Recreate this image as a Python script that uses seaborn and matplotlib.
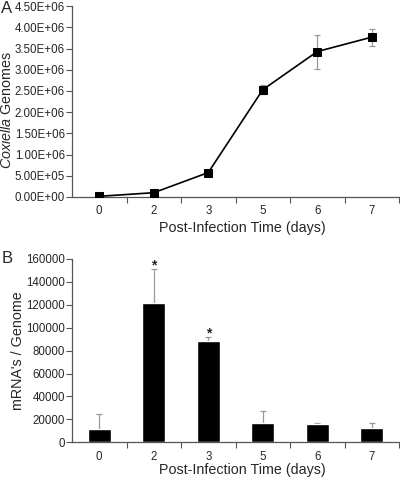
import numpy as np
import pandas as pd
import matplotlib
matplotlib.use('Agg')
import matplotlib.pyplot as plt
import seaborn as sns
from matplotlib.ticker import FormatStrFormatter, FixedLocator

# -------------------------------
# Data
# -------------------------------
days = ['0', '2', '3', '5', '6', '7']

genomes = [1.5e4, 1.0e5, 5.75e5, 2.53e6, 3.43e6, 3.77e6]
genomes_err = [0, 0, 0, 1.0e5, 4.0e5, 2.0e5]

mrna = [11300, 122000, 88300, 16900, 15700, 12200]
mrna_err = [13000, 29500, 3800, 10000, 900, 4400]
starred = ['2', '3']

# -------------------------------
# Style
# -------------------------------
sns.set_style('ticks')
plt.rcParams['font.family'] = ['Liberation Sans', 'DejaVu Sans']
plt.rcParams['mathtext.fontset'] = 'custom'
plt.rcParams['mathtext.rm'] = 'Liberation Sans'
plt.rcParams['mathtext.it'] = 'Liberation Sans:italic'

fig = plt.figure(figsize=(4.0, 4.78), dpi=100)
ax1 = fig.add_axes([0.18, 0.588, 0.8175, 0.399])
ax2 = fig.add_axes([0.18, 0.0747, 0.8175, 0.3835])

spine_col = '#555555'
err_col = '#999999'


def style_axis(ax, xlab_y):
    for s in ['top', 'right']:
        ax.spines[s].set_visible(False)
    for s in ['left', 'bottom']:
        ax.spines[s].set_color(spine_col)
        ax.spines[s].set_linewidth(0.9)
    ax.set_xlim(-0.5, 5.5)
    # labels at categories, tick marks between them
    ax.tick_params(axis='x', which='major', length=0, labelsize=8.3, pad=6)
    ax.xaxis.set_minor_locator(FixedLocator(np.arange(0.5, 6, 1.0)))
    ax.tick_params(axis='x', which='minor', length=4, color=spine_col, width=0.8)
    ax.tick_params(axis='y', length=4, color=spine_col, width=0.8, labelsize=8.3, pad=1)
    ax.set_xlabel('Post-Infection Time (days)', fontsize=10.3)
    ax.xaxis.label.set_va('center')
    ax.xaxis.set_label_coords(0.52, xlab_y)


# -------------------------------
# A: genome counts
# -------------------------------
df_a = pd.DataFrame({'day': days, 'genomes': genomes})
ax1.errorbar(df_a['day'], df_a['genomes'], yerr=genomes_err, fmt='none',
             ecolor=err_col, elinewidth=0.9, capsize=2.5, capthick=0.9, zorder=1)
sns.lineplot(data=df_a, x='day', y='genomes', ax=ax1, color='black',
             linewidth=1.2, marker='s', markersize=5.5, markeredgecolor='black',
             sort=False, zorder=3)
ax1.set_ylim(0, 4.5e6)
ax1.set_yticks(np.arange(0, 4.51e6, 0.5e6))
ax1.yaxis.set_major_formatter(FormatStrFormatter('%.2E'))
ax1.set_ylabel(r'$\mathit{Coxiella}$ Genomes', fontsize=10.3)
ax1.yaxis.label.set_va('center')
ax1.yaxis.set_label_coords(-0.199, 0.455)
style_axis(ax1, -0.162)

# -------------------------------
# B: mRNA per genome
# -------------------------------
df_b = pd.DataFrame({'day': days, 'mrna': mrna})
sns.barplot(data=df_b, x='day', y='mrna', ax=ax2, color='black',
            width=0.42, saturation=1, zorder=2)
ax2.errorbar(df_b['day'], df_b['mrna'], yerr=[np.zeros(len(mrna)), mrna_err],
             fmt='none', ecolor=err_col, elinewidth=0.9, capsize=2.5,
             capthick=0.9, zorder=1)
for d in starred:
    i = days.index(d)
    ax2.annotate('*', (i, mrna[i] + mrna_err[i]), xytext=(0, -3),
                 textcoords='offset points', ha='center', va='bottom',
                 fontsize=10, fontweight='bold')
ax2.set_ylim(0, 160000)
ax2.set_yticks(np.arange(0, 160001, 20000))
ax2.set_ylabel("mRNA's / Genome", fontsize=10.3)
ax2.yaxis.label.set_va('center')
ax2.yaxis.set_label_coords(-0.165, 0.5)
style_axis(ax2, -0.151)

fig.text(0.003, 0.972, 'A', fontsize=12, va='baseline', ha='left')
fig.text(0.003, 0.450, 'B', fontsize=12, va='baseline', ha='left')

fig.savefig('out.png', dpi=100)
plt.close(fig)
